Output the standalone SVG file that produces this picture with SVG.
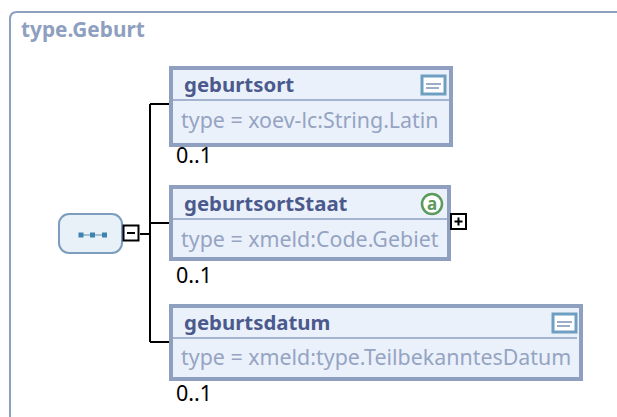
<svg xmlns="http://www.w3.org/2000/svg" width="617" height="417" viewBox="0 0 617 417">
<style>
text{font-family:"Noto Sans","Open Sans",sans-serif}
.box{fill:#ebf1fb;stroke:#8e9fc0;stroke-width:4}
.sep{stroke:#8e9fc0;stroke-width:1.5}
.name{font-size:20.4px;font-weight:700;fill:#4b5a8c}
.type{font-size:21.4px;fill:#95a4c2}
.occ{font-size:21.5px;fill:#000}
.conn{fill:none;stroke:#000;stroke-width:2}
.toggle{fill:#fff;stroke:#000;stroke-width:2}
.doc{fill:#fff;stroke:#6f9fc0;stroke-width:3}
.docl{stroke:#7f93b5;stroke-width:1.5}
</style>
<path d="M10 417V19Q10 12 17 12H617" fill="none" stroke="#8e9fc0" stroke-width="2"/>
<text x="21" y="37" font-size="20.800" font-weight="700" fill="#8e9fc0">type.Geburt</text>
<g id="connectors">
<path class="conn" d="M140 234H150M150 104H171M150 223H171M150 342H171M150 104V342"/>
</g>
<g id="sequence">
<rect x="59" y="214" width="63" height="39" rx="10" fill="#e8f0f8" stroke="#7c9dbd" stroke-width="2"/>
<path d="M81 235H105" stroke="#5c8db0" stroke-width="1"/>
<rect x="78.500" y="232.500" width="5" height="5" fill="#3d83ad"/><rect x="90" y="232.500" width="5" height="5" fill="#3d83ad"/><rect x="102" y="232.500" width="5" height="5" fill="#3d83ad"/>
<rect class="toggle" x="123.500" y="225.500" width="15" height="15"/>
<path d="M127 233H135" stroke="#000" stroke-width="2"/>
</g>
<g id="geburtsort">
<rect class="box" x="171" y="68" width="280" height="77"/>
<path class="sep" d="M173 100H449"/>
<text class="name" x="184" y="92">geburtsort</text>
<text class="type" x="181" y="128">type = xoev-lc:String.Latin</text>
<rect class="doc" x="422" y="76" width="23" height="18"/>
<path class="docl" d="M426 84H441M426 88H439"/>
<text class="occ" x="176" y="163">0..1</text>
</g>
<g id="geburtsortStaat">
<rect class="box" x="171" y="187" width="278" height="72"/>
<path class="sep" d="M173 219H447"/>
<text class="name" x="184" y="211">geburtsortStaat</text>
<text class="type" x="181" y="247">type = xmeld:Code.Gebiet</text>
<circle cx="432" cy="204" r="10" fill="#fff" stroke="#5c9a5c" stroke-width="2.500"/>
<text x="432" y="210" font-size="17" font-weight="700" fill="#5c9a5c" text-anchor="middle">a</text>
<rect class="toggle" x="451" y="214" width="15" height="15"/>
<path d="M454.500 221.500H462.500M458.500 217.500V225.500" stroke="#000" stroke-width="2"/>
<text class="occ" x="176" y="283">0..1</text>
</g>
<g id="geburtsdatum">
<rect class="box" x="171" y="306" width="410" height="73"/>
<path class="sep" d="M173 338H577"/>
<text class="name" x="184" y="330">geburtsdatum</text>
<text class="type" x="181" y="365">type = xmeld:type.TeilbekanntesDatum</text>
<rect class="doc" x="553" y="314" width="23" height="18"/>
<path class="docl" d="M557 322H572M557 326H570"/>
<text class="occ" x="176" y="401">0..1</text>
</g>
</svg>
